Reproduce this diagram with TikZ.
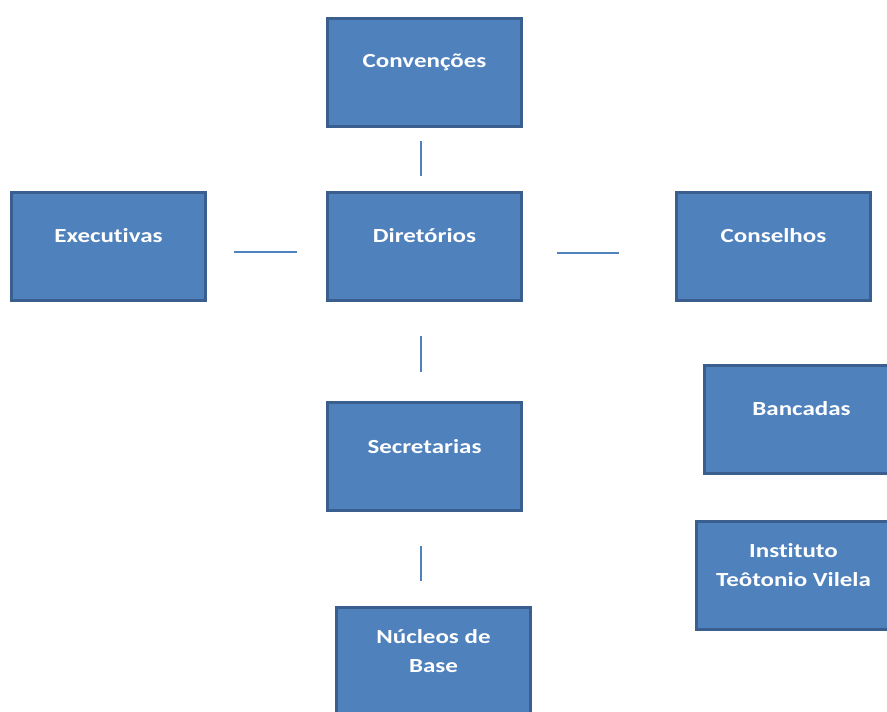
\documentclass[tikz,border=0pt]{standalone}
\usepackage{fontspec}
\setmainfont[FakeStretch=1.25,Ligatures=NoCommon]{Carlito}
\definecolor{bl}{HTML}{4F81BD}
\definecolor{bd}{HTML}{3A5F8E}
\begin{document}
\begin{tikzpicture}[x=1pt,y=-1pt,
  box/.style={draw=bd, fill=bl, line width=3pt, inner sep=0pt, text=white,
    font=\fontsize{20}{29}\selectfont\bfseries, minimum width=194pt, minimum height=108pt},
  conn/.style={draw=bl, line width=2pt}]
\useasboundingbox (0,0) rectangle (887,712);
\newcommand{\bx}[1]{\parbox[c][100pt][c]{190pt}{\centering #1\par\vspace{20pt}}}
\node[box] (conv) at (424.5,72.5) {\bx{Convenções}};
\node[box] (exe) at (108.5,246) {\bx{Executivas}};
\node[box] (dir) at (424.5,246) {\bx{Diretórios}};
\node[box] (cons) at (773.5,246) {\bx{Conselhos}};
\node[box] (sec) at (424.5,456.5) {\bx{Secretarias}};
\node[box] (banc) at (801.5,419) {\bx{Bancadas}};
\node[box] (inst) at (793.5,575.5) {\bx{Instituto\\Teôtonio Vilela}};
\node[box] (nuc) at (433.5,661.5) {\bx{Núcleos de\\Base}};
\draw[conn, shorten <=13pt, shorten >=15pt] ([xshift=-3.5pt]conv.south) -- ([xshift=-3.5pt]dir.north);
\draw[conn, shorten <=27pt, shorten >=29pt] ([yshift=-6pt]exe.east) -- ([yshift=-6pt]dir.west);
\draw[conn, shorten <=34pt, shorten >=56pt] ([yshift=-7pt]dir.east) -- ([yshift=-7pt]dir.east -| cons.west);
\draw[conn, shorten <=34pt, shorten >=29pt] ([xshift=-3.5pt]dir.south) -- ([xshift=-3.5pt]sec.north);
\draw[conn, shorten <=34pt, shorten >=25pt] ([xshift=-3.5pt]sec.south) -- ([xshift=-3.5pt]sec.south |- nuc.north);
\end{tikzpicture}
\end{document}
